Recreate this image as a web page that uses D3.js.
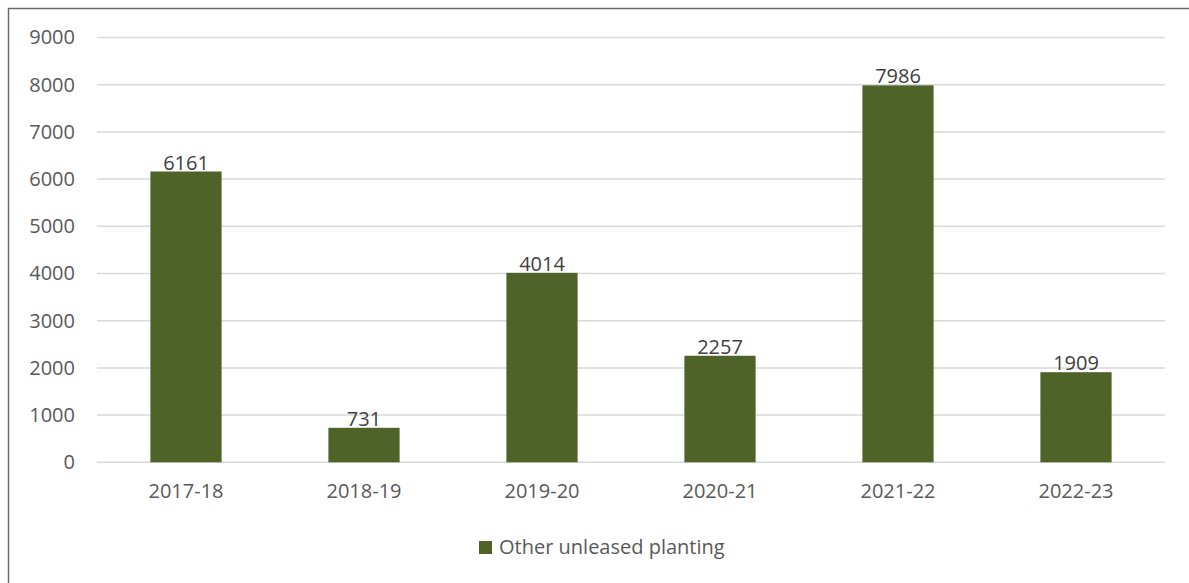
<!DOCTYPE html>
<html>
<head>
<meta charset="utf-8">
<script src="https://cdn.jsdelivr.net/npm/d3@7"></script>
<style>
  body { margin: 0; background: #fff; }
  svg text { font-family: "Open Sans", "Noto Sans", sans-serif; }
</style>
</head>
<body>
<div class="chart"></div>
<script>
// Data
const years = ["2017-18", "2018-19", "2019-20", "2020-21", "2021-22", "2022-23"];
const planting = [6161, 731, 4014, 2257, 7986, 1909];
const yTicks = [0, 1000, 2000, 3000, 4000, 5000, 6000, 7000, 8000, 9000];
const seriesName = "Other unleased planting";

const width = 1189, height = 583;
const margin = { top: 37.5, right: 24, bottom: 120.7, left: 97 };

const svg = d3.select(".chart").append("svg")
  .attr("width", width)
  .attr("height", height);

// outer frame (right and bottom edges fall outside the picture)
svg.append("rect")
  .attr("x", 8.5).attr("y", 8.5)
  .attr("width", width + 20).attr("height", height + 20)
  .attr("fill", "none")
  .attr("stroke", "#6b6b6b")
  .attr("stroke-width", 1.5);

const x = d3.scaleBand()
  .domain(years)
  .range([margin.left, width - margin.right])
  .paddingInner(0.6)
  .paddingOuter(0.3);

const y = d3.scaleLinear()
  .domain([0, 9000])
  .range([height - margin.bottom, margin.top]);

// gridlines
svg.append("g")
  .selectAll("line")
  .data(yTicks)
  .join("line")
  .attr("x1", margin.left)
  .attr("x2", width - margin.right)
  .attr("y1", d => y(d))
  .attr("y2", d => y(d))
  .attr("stroke", "#d9d9d9")
  .attr("stroke-width", 1.5);

// y axis labels
const yAxis = svg.append("g")
  .attr("transform", `translate(${margin.left - 22},0)`)
  .call(d3.axisLeft(y).tickValues(yTicks).tickFormat(d3.format("d")).tickSize(0).tickPadding(0));
yAxis.select(".domain").remove();
yAxis.selectAll("text")
  .style("font-size", "20px")
  .attr("fill", "#595959");

// bars
svg.append("g")
  .selectAll("rect")
  .data(years)
  .join("rect")
  .attr("x", d => x(d))
  .attr("width", x.bandwidth())
  .attr("y", (d, i) => y(planting[i]))
  .attr("height", (d, i) => y(0) - y(planting[i]))
  .attr("fill", "#4f6228");

// value labels
svg.append("g")
  .selectAll("text")
  .data(years)
  .join("text")
  .attr("x", d => x(d) + x.bandwidth() / 2)
  .attr("y", (d, i) => y(planting[i]) - 2)
  .attr("text-anchor", "middle")
  .style("font-size", "20px")
  .attr("fill", "#404040")
  .text((d, i) => planting[i]);

// x axis labels
const xAxis = svg.append("g")
  .attr("transform", `translate(0,${y(0)})`)
  .call(d3.axisBottom(x).tickSize(0).tickPadding(22));
xAxis.select(".domain").remove();
xAxis.selectAll("text")
  .style("font-size", "20px")
  .attr("fill", "#595959");

// legend
const legend = svg.append("g")
  .attr("transform", "translate(479,541)");
legend.append("rect")
  .attr("width", 13).attr("height", 13)
  .attr("fill", "#4f6228");
legend.append("text")
  .attr("x", 20)
  .attr("y", 13)
  .style("font-size", "20px")
  .attr("fill", "#595959")
  .text(seriesName);
</script>
</body>
</html>
